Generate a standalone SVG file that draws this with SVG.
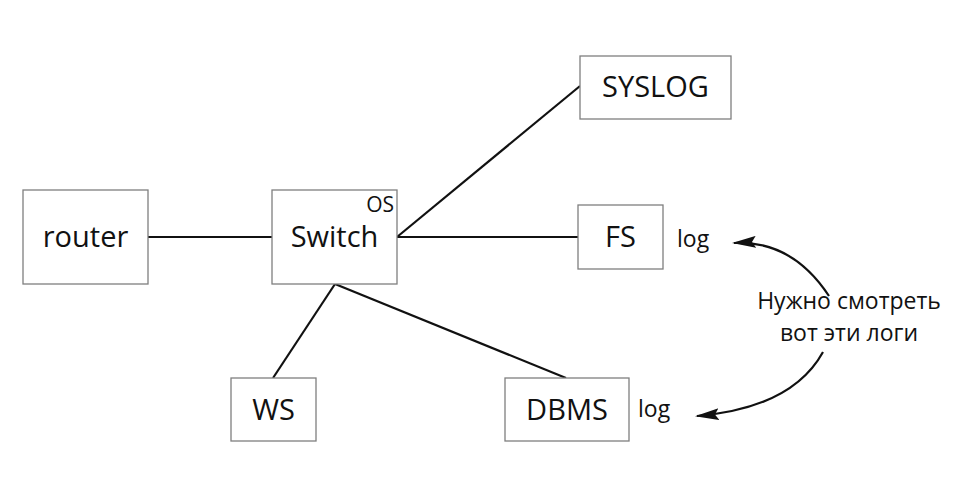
<svg xmlns="http://www.w3.org/2000/svg" width="974" height="490" viewBox="0 0 974 490">
<style>
.box{fill:#fff;stroke:#7f7f7f;stroke-width:1.3}
.lbl{font-family:"Open Sans","Liberation Sans",sans-serif;font-size:29px;fill:#111;text-anchor:middle}
.sm{font-family:"Open Sans","Liberation Sans",sans-serif;font-size:23px;fill:#111}
.os{font-family:"Open Sans","Liberation Sans",sans-serif;font-size:21px;fill:#111;text-anchor:end}
.con{stroke:#111;stroke-width:2.2;fill:none}
</style>
<defs>
<marker id="ah" viewBox="0 0 24 12" refX="22" refY="6" markerWidth="24" markerHeight="12" markerUnits="userSpaceOnUse" orient="auto">
<path d="M0,0 L24,6 L0,12 L4,6 Z" fill="#111"/>
</marker>
</defs>
<rect width="974" height="490" fill="#fff"/>
<g id="connectors">
<line class="con" x1="148" y1="237" x2="272" y2="237" stroke="#2b1f3d"/>
<line class="con" x1="397" y1="237" x2="580" y2="86"/>
<line class="con" x1="397" y1="237" x2="578" y2="237"/>
<line class="con" x1="335" y1="284" x2="273" y2="378"/>
<line class="con" x1="335" y1="284" x2="566" y2="378"/>
<path class="con" d="M829,296 Q792,240 734,243" marker-end="url(#ah)"/>
<path class="con" d="M823,352 Q792,408 697,416" marker-end="url(#ah)"/>
</g>
<g id="router">
<rect class="box" x="23" y="190" width="125" height="94"/>
<text class="lbl" x="85.5" y="247">router</text>
</g>
<g id="switch">
<rect class="box" x="272" y="190" width="125" height="94"/>
<text class="lbl" x="334.5" y="247">Switch</text>
<text class="os" x="394" y="212">OS</text>
</g>
<g id="syslog">
<rect class="box" x="580" y="56" width="151" height="63"/>
<text class="lbl" x="655.5" y="97">SYSLOG</text>
</g>
<g id="fs">
<rect class="box" x="578" y="205" width="85" height="64"/>
<text class="lbl" x="620.5" y="247">FS</text>
<text class="sm" x="677" y="247">log</text>
</g>
<g id="ws">
<rect class="box" x="231" y="378" width="85" height="63"/>
<text class="lbl" x="273.5" y="420">WS</text>
</g>
<g id="dbms">
<rect class="box" x="505" y="378" width="124" height="63"/>
<text class="lbl" x="567" y="420">DBMS</text>
<text class="sm" x="638" y="417">log</text>
</g>
<g id="note">
<text class="sm" x="849" y="309" text-anchor="middle">Нужно смотреть</text>
<text class="sm" x="849" y="341" text-anchor="middle">вот эти логи</text>
</g>
</svg>
